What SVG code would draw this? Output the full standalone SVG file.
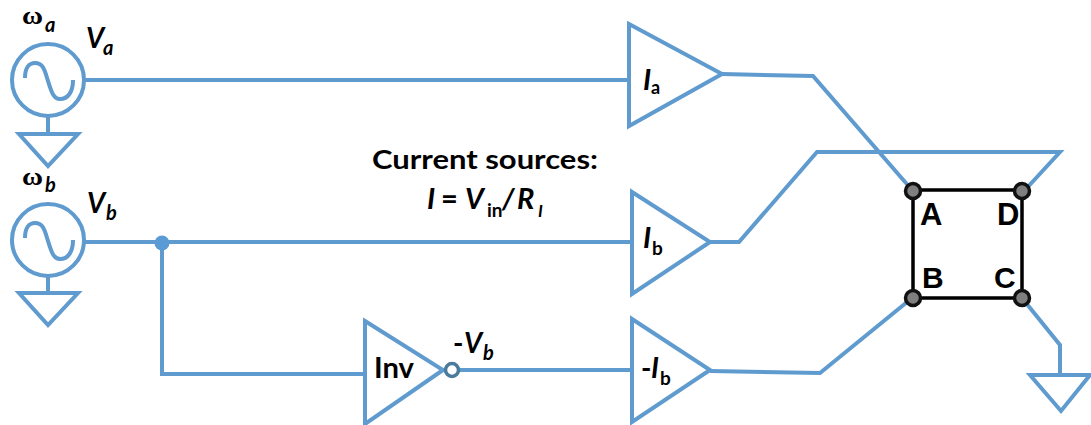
<svg xmlns="http://www.w3.org/2000/svg" width="1091" height="425" viewBox="0 0 1091 425">
<style>
.w{fill:none;stroke:#5f9bce;stroke-width:4;stroke-linejoin:miter}
.k{fill:none;stroke:#000;stroke-width:3.5}
.n{fill:#7f7f7f;stroke:#111;stroke-width:3.5}
text{font-family:Lato,"Liberation Sans",sans-serif;font-weight:700;fill:#000}
.i{font-style:italic}
.a{font-family:"Liberation Sans",sans-serif}
.o{font-family:"Liberation Serif",serif}
</style>
<rect width="1091" height="425" fill="#fff"/>
<g id="connectors">
<path class="w" d="M85 80H630"/>
<path class="w" d="M722 74L813 76L912 190"/>
<path class="w" d="M85 242H632"/>
<path class="w" d="M710 242H739L817 152H1060L1025 190"/>
<path class="w" d="M162 242V374H365"/>
<path class="w" d="M458 370H632"/>
<path class="w" d="M710 371L820 373L912 298"/>
<path class="w" d="M1022 298L1060 345V375"/>
<path class="w" d="M48 116V134"/>
<path class="w" d="M48 276V293"/>
<circle cx="162" cy="243" r="7.5" fill="#5b9bd5"/>
</g>
<g id="source-a">
<circle class="w" cx="48" cy="80" r="36"/>
<path class="w" d="M25 78C25 68 29 63 35 63C44 63 45 72 48 81C51 90 53 99 60 99C68 99 73 92 73 80"/>
<text class="o" x="22" y="24" font-size="26" textLength="21" lengthAdjust="spacingAndGlyphs">ω</text>
<text class="i" x="45" y="32" font-size="20">a</text>
<text class="i" x="86" y="48" font-size="28">V</text>
<text class="i" x="103" y="55" font-size="20">a</text>
</g>
<g id="ground-a"><path class="w" d="M19 134H78L48 166Z"/></g>
<g id="source-b">
<circle class="w" cx="48" cy="240" r="36"/>
<path class="w" d="M25 238C25 228 29 223 35 223C44 223 45 232 48 241C51 250 53 259 60 259C68 259 73 252 73 240"/>
<text class="o" x="22" y="185" font-size="26" textLength="21" lengthAdjust="spacingAndGlyphs">ω</text>
<text class="i" x="45" y="192" font-size="20">b</text>
<text class="i" x="87" y="213" font-size="28">V</text>
<text class="i" x="106" y="220" font-size="20">b</text>
</g>
<g id="ground-b"><path class="w" d="M19 293H78L48 325Z"/></g>
<g id="amp-a">
<path class="w" d="M629 24L722 74L629 126Z"/>
<text class="i" x="643" y="90" font-size="29">I</text>
<text x="651" y="94" font-size="18" font-weight="400">a</text>
</g>
<g id="amp-b">
<path class="w" d="M632 192L710 242L632 294Z"/>
<text class="i" x="643" y="248" font-size="29">I</text>
<text x="652" y="255" font-size="19" font-weight="400">b</text>
</g>
<g id="amp-minus-b">
<path class="w" d="M632 319L710 370L632 422Z"/>
<text x="641" y="378" font-size="28">-</text>
<text class="i" x="651" y="378" font-size="28">I</text>
<text x="660" y="385" font-size="19" font-weight="400">b</text>
</g>
<g id="inverter">
<path class="w" d="M365 321L443 370L365 424Z"/>
<circle cx="452" cy="370" r="6.5" fill="#fff" stroke="#4a7a9c" stroke-width="3.5"/>
<text x="374" y="378" font-size="29" textLength="40" lengthAdjust="spacingAndGlyphs">Inv</text>
<text x="453" y="353" font-size="28">-</text>
<text class="i" x="464" y="353" font-size="28">V</text>
<text class="i" x="483" y="360" font-size="20">b</text>
</g>
<g id="caption">
<text x="372" y="169" font-size="27" textLength="226" lengthAdjust="spacingAndGlyphs">Current sources:</text>
<text class="i" x="427" y="209" font-size="29">I</text>
<text x="441" y="209" font-size="29">=</text>
<text class="i" x="465" y="209" font-size="29">V</text>
<text x="487" y="217" font-size="19" font-weight="400">in</text>
<text class="i" x="502" y="209" font-size="29">/</text>
<text class="i" x="517" y="209" font-size="29">R</text>
<text class="i" x="538" y="217" font-size="17">I</text>
</g>
<g id="sample">
<rect class="k" x="913" y="190" width="109" height="108"/>
<circle class="n" cx="913" cy="191" r="7.5"/>
<circle class="n" cx="1022" cy="191" r="7.5"/>
<circle class="n" cx="913" cy="298" r="7.5"/>
<circle class="n" cx="1022" cy="298" r="7.5"/>
<text class="a" x="920" y="225" font-size="31">A</text>
<text class="a" x="997" y="225" font-size="31">D</text>
<text class="a" x="922" y="288" font-size="30">B</text>
<text class="a" x="994" y="288" font-size="30">C</text>
</g>
<g id="ground-c"><path class="w" d="M1030 375H1090L1061 411Z"/></g>
</svg>
